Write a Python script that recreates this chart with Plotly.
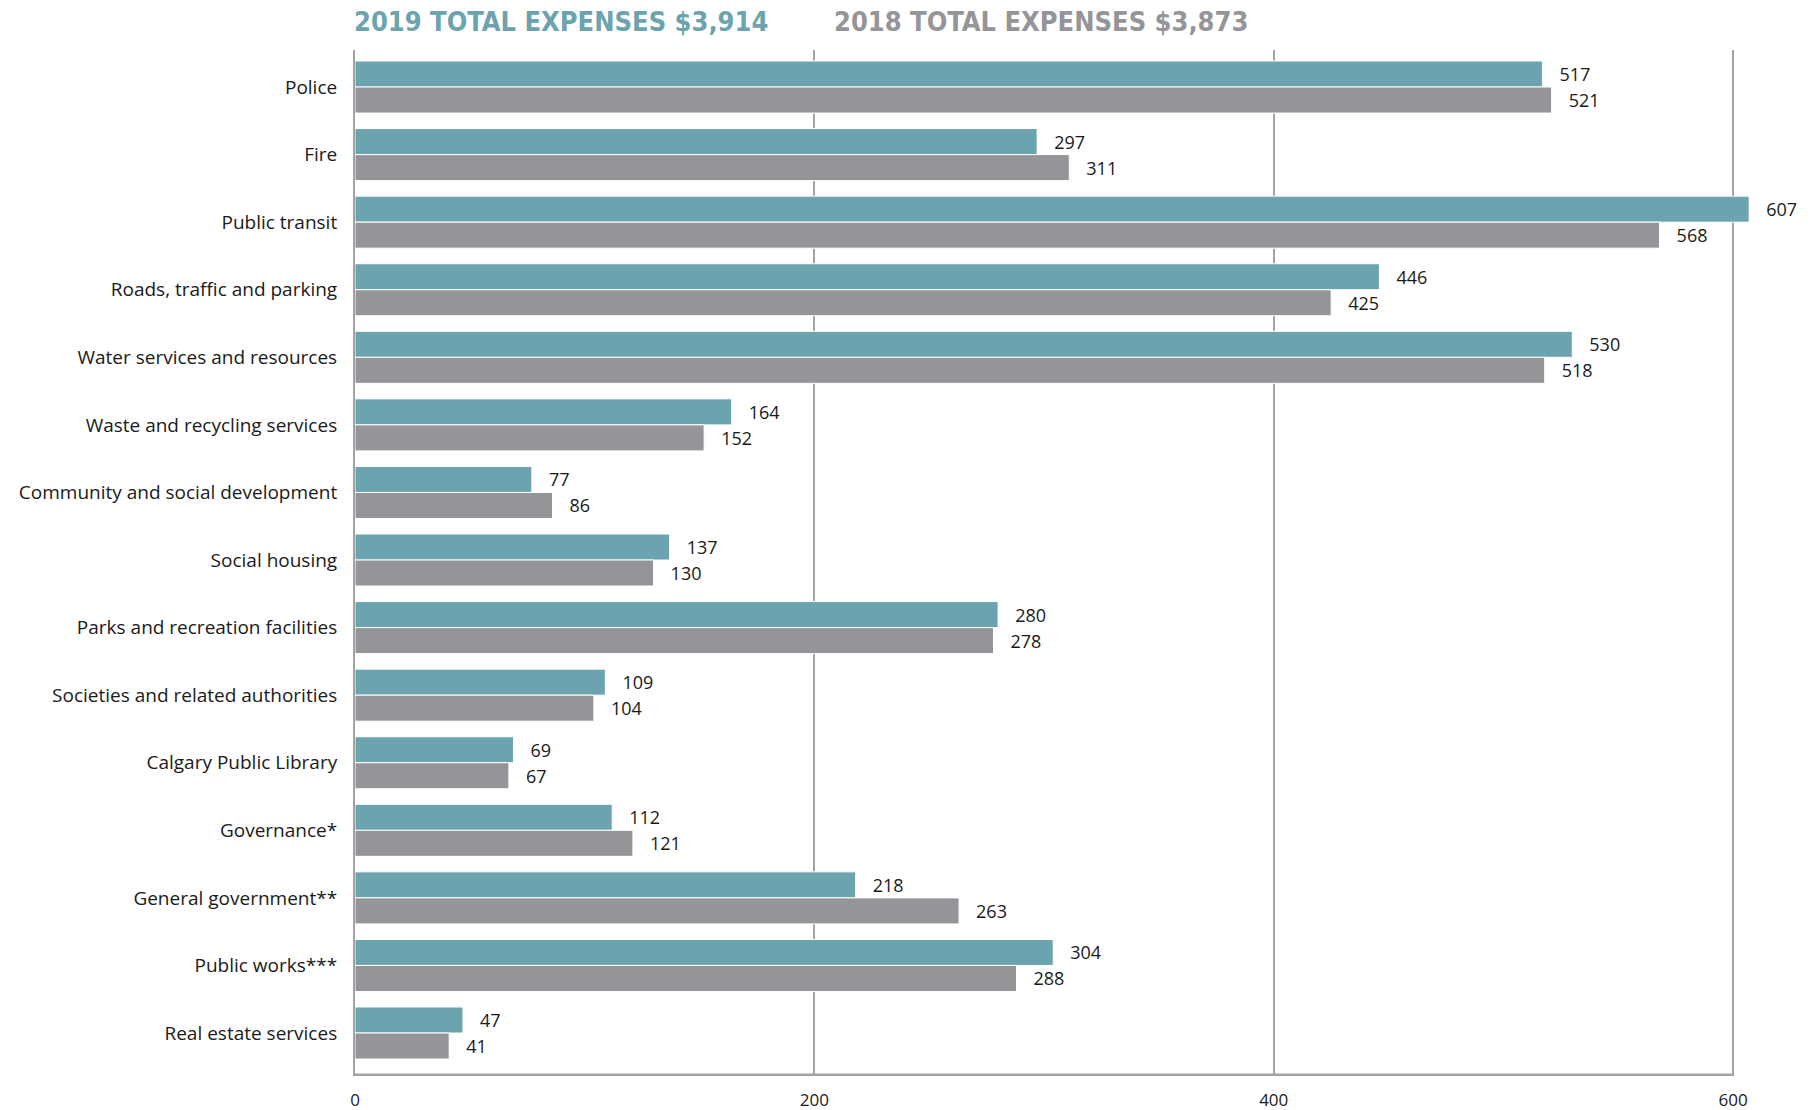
import plotly.graph_objects as go

categories = [
    "Police", "Fire", "Public transit", "Roads, traffic and parking",
    "Water services and resources", "Waste and recycling services",
    "Community and social development", "Social housing",
    "Parks and recreation facilities", "Societies and related authorities",
    "Calgary Public Library", "Governance*", "General government**",
    "Public works***", "Real estate services",
]
values_2019 = [517, 297, 607, 446, 530, 164, 77, 137, 280, 109, 69, 112, 218, 304, 47]
values_2018 = [521, 311, 568, 425, 518, 152, 86, 130, 278, 104, 67, 121, 263, 288, 41]
title_2019 = "2019 TOTAL EXPENSES $3,914"
title_2018 = "2018 TOTAL EXPENSES $3,873"
x_ticks = [0, 200, 400, 600]
x_max = 620

TEAL = "#6BA3AE"
GREY = "#959599"
TXT = "#1a1a1a"
GRID = "#a3a3a3"

fig = go.Figure()
for name, vals, col in [("2019", values_2019, TEAL), ("2018", values_2018, GREY)]:
    fig.add_trace(go.Bar(
        y=categories, x=vals, orientation="h", name=name,
        marker=dict(color=col, line=dict(color="white", width=1)),
        text=vals, texttemplate="\u00a0\u00a0\u00a0%{x}", textposition="outside",
        textfont=dict(family="Open Sans", size=18, color=TXT),
        cliponaxis=False,
    ))

# bottom axis line spanning 0..600 on an invisible overlay y-axis
fig.add_trace(go.Scatter(
    x=[x_ticks[0], x_ticks[-1]], y=[0, 0], yaxis="y2", mode="lines",
    line=dict(color=GRID, width=2.5), hoverinfo="skip", cliponaxis=False,
))

W, H = 1812, 1110
L, R, T, B = 355, 33, 50, 34
fig.update_layout(
    template="none",
    width=W, height=H,
    margin=dict(l=L, r=R, t=T, b=B, pad=0),
    paper_bgcolor="white", plot_bgcolor="white",
    barmode="group", bargap=0.23, bargroupgap=0.0,
    showlegend=False,
    font=dict(family="Open Sans", size=17, color=TXT),
    xaxis=dict(range=[0, x_max], tickvals=x_ticks, showgrid=True, gridcolor=GRID,
               gridwidth=2, zeroline=False, showline=False, ticks="",
               automargin=False, ticklabelstandoff=12, tickfont=dict(size=17)),
    yaxis=dict(range=[14.636, -0.548], showgrid=False, zeroline=False,
               showline=True, linecolor=GRID, linewidth=2, ticks="",
               automargin=False, ticklabelstandoff=12, tickfont=dict(size=19)),
    yaxis2=dict(overlaying="y", range=[-0.0013, 1], visible=False, fixedrange=True),
)

pw = W - L - R
ph = H - T - B
for txt, px, col in [(title_2019, 352, TEAL), (title_2018, 832, GREY)]:
    fig.add_annotation(text=f"<b>{txt}</b>", xref="paper", yref="paper",
                       x=(px - L) / pw, y=(H - B - 22) / ph, xanchor="left", yanchor="middle",
                       showarrow=False,
                       font=dict(family="DejaVu Sans Condensed", size=27, color=col))

fig.write_html("out.html")
